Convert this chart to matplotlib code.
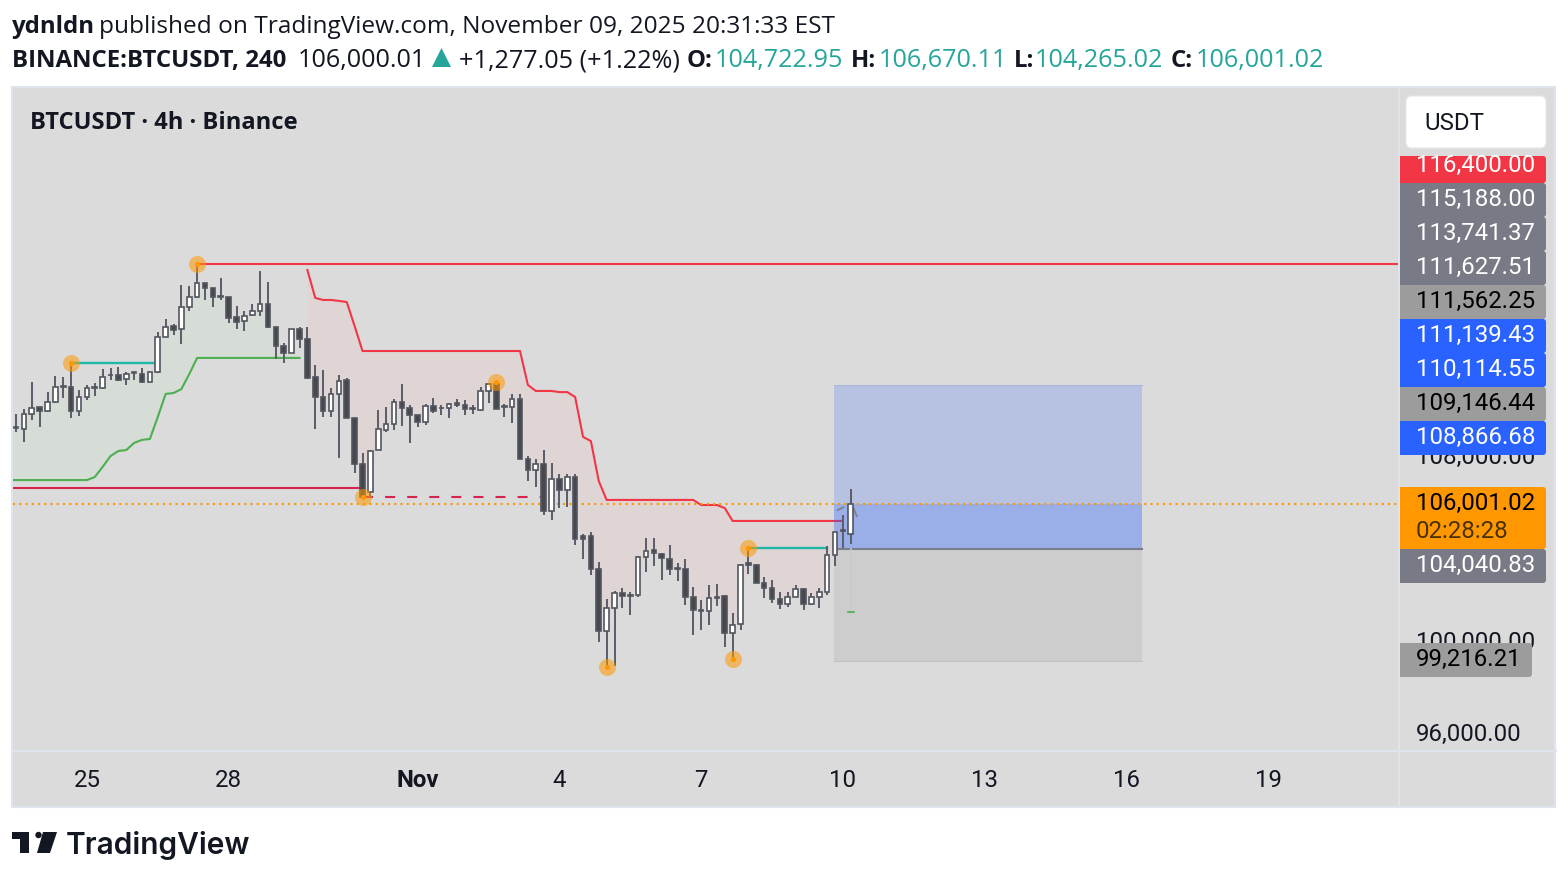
import matplotlib
matplotlib.use("Agg")
import matplotlib.pyplot as plt
import numpy as np
from matplotlib.patches import FancyBboxPatch, Polygon, Rectangle, Circle
from matplotlib.transforms import ScaledTranslation

# 4h candles, oldest first
opens = [
    109320, 109250, 109900, 110200, 110030, 110420, 111090, 111070, 110030, 110640,
    111070, 111030, 111590, 111590, 111420, 111700, 111630, 111290, 111720, 113240,
    113710, 113580, 114540, 114970, 115580, 115360, 115010, 114970, 114100, 113930,
    114190, 114360, 114670, 113670, 112840, 112540, 113580, 113150, 111500, 110640,
    110030, 110770, 111380, 109730, 107740, 106520, 108340, 109210, 109470, 110420,
    110160, 109860, 109560, 110250, 110180, 110160, 110360, 110290, 110140, 110080,
    110900, 111200, 110250, 110200, 110550, 107950, 107480, 107740, 105700, 107090,
    106610, 107170, 104620, 104620, 103190, 100500, 101500, 102150, 102080, 102060,
    103710, 104010, 103860, 103620, 103250, 103190, 101970, 101430, 101370, 101970,
    102020, 100420, 100800, 103430, 103360, 102580, 102370, 101890, 101670, 101970,
    102320, 101670, 101970, 102190, 103800, 104880, 104722.95,
]
highs = [
    109900, 110120, 111290, 110200, 110850, 111550, 111500, 112110, 110940, 111160,
    111240, 111850, 111900, 111940, 111720, 111700, 111900, 111720, 113450, 114020,
    113800, 115490, 115450, 116400, 115580, 115360, 115790, 114970, 114580, 114360,
    114670, 116100, 115620, 113670, 112970, 113580, 113670, 113670, 112020, 111810,
    111030, 111590, 111460, 109730, 108210, 108340, 110080, 110200, 110550, 111200,
    110290, 109860, 110340, 110600, 110290, 110380, 110550, 110510, 110290, 111070,
    111240, 111240, 110340, 110770, 110770, 108080, 107950, 108340, 107780, 107300,
    107300, 107300, 104700, 104790, 103490, 101890, 102240, 102370, 102190, 103750,
    104530, 104530, 103880, 104230, 103450, 103620, 102410, 101850, 102500, 102540,
    102060, 101280, 103400, 104100, 103400, 102840, 102710, 102190, 102190, 102500,
    102370, 102150, 102370, 104180, 104790, 105530, 106670.11,
]
lows = [
    109120, 108690, 109640, 109340, 109990, 110380, 110590, 109730, 109810, 110510,
    110680, 110980, 111380, 111330, 111160, 111380, 111240, 111290, 111680, 113240,
    113320, 112930, 114360, 114930, 114840, 114540, 114840, 113840, 113580, 113500,
    114150, 114150, 113620, 112280, 112110, 112540, 112760, 111420, 109250, 109770,
    109770, 108000, 109730, 107350, 106260, 106310, 108340, 109120, 109210, 109380,
    108650, 109340, 109430, 109950, 109860, 109730, 110200, 109860, 109900, 110030,
    110380, 110120, 109770, 109510, 107950, 107000, 106740, 105530, 105310, 105830,
    105870, 104230, 103620, 102930, 100030, 98940, 98990, 101500, 101200, 101970,
    103060, 103320, 102710, 102930, 102670, 101630, 100330, 100550, 100760, 101590,
    99810, 99290, 100550, 102970, 102580, 101930, 101720, 101460, 101540, 101970,
    101410, 101630, 101500, 102060, 103320, 104100, 104265.02,
]
closes = [
    109280, 109900, 110160, 110030, 110420, 111070, 111070, 110030, 110640, 111030,
    111040, 111500, 111570, 111380, 111630, 111660, 111290, 111720, 113240, 113670,
    113540, 114540, 114970, 115580, 115360, 114970, 114970, 114060, 113890, 114150,
    114360, 114670, 113670, 112840, 112540, 113580, 113150, 111460, 110640, 110030,
    110770, 111330, 109730, 107740, 106310, 108300, 109250, 109470, 110420, 110160,
    109860, 109560, 110250, 110030, 110140, 110340, 110310, 110120, 110100, 110900,
    111200, 110120, 110200, 110550, 107950, 107480, 107740, 105700, 107090, 106610,
    107170, 104490, 104490, 103190, 100500, 101500, 102150, 102020, 102040, 103710,
    103970, 103880, 103660, 103190, 103210, 101970, 101410, 101390, 101930, 101930,
    100420, 100760, 103360, 103380, 102580, 102370, 101890, 101670, 101970, 102320,
    101670, 101970, 102190, 103800, 104790, 104820, 106001.02,
]

# trailing stop, bars -1..36 going up then bars 37..105 going down
trail_up = [107040] * 11 + [
    107170, 107610, 108080, 108300, 108340, 108650, 108780, 108820, 109770, 110770,
    110810, 110980, 111630,
] + [112330] * 14
trail_down = [116140, 114930, 114840, 114840, 114800, 114750, 113710] + [112630] * 21 + [
    111160, 110900, 110900, 110900, 110850, 110850, 110640, 108910, 108730, 107000,
] + [106180] * 12 + [105960] * 3 + [105830] + [105270] * 15

# swing points (bar, price)
swing_bars = [7, 23, 44, 61, 75, 91, 93]
swing_prices = [112110, 116400, 106320, 111290, 98944, 99290, 104100]

top_line = 116400
last_price = 106001.02
entry = 104040.83
target = 111139.43
stop = 99216.21

xtick_bars = [9, 27, 51, 69, 87, 105, 123, 141, 159]
xtick_labels = ["25", "28", "Nov", "4", "7", "10", "13", "16", "19"]
ytick_values = [96000, 100000, 108000]
ytick_labels = ["96,000.00", "100,000.00", "108,000.00"]

bg = "#dbdbdb"
text_dark = "#131722"
teal = "#26a69a"
W, H = 1568, 880

fig = plt.figure(figsize=(W / 100, H / 100), dpi=100, facecolor="white")

# page furniture in pixel coordinates
back = fig.add_axes([0, 0, 1, 1], zorder=0)
back.set_xlim(0, W)
back.set_ylim(H, 0)
back.axis("off")
back.add_patch(Rectangle((12.5, 87), 1543, 720, fc=bg, ec="#dfe3ec", lw=1.5))
back.plot([1399, 1399], [87, 807], color="#dfe3ec", lw=1.5)
back.plot([12, 1556], [751, 751], color="#dfe3ec", lw=1.5)


def px(size):
    return size * 0.72


def head(x, y, s, bold=False, color=text_dark, size=25.2):
    back.text(x, y, s, family="Open Sans", fontsize=px(size), color=color,
              fontweight="bold" if bold else "normal", va="center", ha="left")


head(12, 27, "ydnldn", bold=True, size=24)
head(99, 27, "published on TradingView.com, November 09, 2025 20:31:33 EST", size=24.4)
head(12, 61, "BINANCE:BTCUSDT, 240", bold=True, size=24)
head(298, 61, "106,000.01")
back.add_patch(Polygon([[432, 67], [451, 67], [441.5, 48]], fc=teal, ec="none"))
head(459, 61, "+1,277.05 (+1.22%)")
head(687, 61, "O:", bold=True, size=24)
head(715, 61, "104,722.95", color=teal)
head(851, 61, "H:", bold=True, size=24)
head(879, 61, "106,670.11", color=teal)
head(1014, 61, "L:", bold=True, size=24)
head(1035, 61, "104,265.02", color=teal)
head(1171, 61, "C:", bold=True, size=24)
head(1196, 61, "106,001.02", color=teal)
head(30, 123, "BTCUSDT · 4h · Binance", bold=True, size=23.8)

# logo
logo = "#131722"
back.add_patch(Polygon([[12, 832], [29, 832], [29, 853], [20, 853], [20, 839], [12, 839]], fc=logo, ec="none"))
back.add_patch(Circle((38.5, 835), 3.2, fc=logo, ec="none"))
back.add_patch(Polygon([[43, 832], [57, 832], [50, 853], [37, 853]], fc=logo, ec="none"))
back.text(66, 845, "TradingView", family="Inter", fontsize=px(29.9), fontweight="semibold",
          color=logo, va="center", ha="left")

# chart area
ax = fig.add_axes([13 / W, 1 - 750 / H, (1398 - 13) / W, (750 - 88) / H], zorder=1)
ax.patch.set_alpha(0)
for s in ax.spines.values():
    s.set_visible(False)
ax.set_xlim(-0.381, 175.49)
ax.set_ylim(95350, 124020)

opens_a, highs_a, lows_a, closes_a = map(np.array, (opens, highs, lows, closes))
bars = np.arange(len(opens))
mids = (opens_a + closes_a) / 2

# trailing stop and its shading
up_x = np.arange(-1, 37)
ax.fill_between(up_x, trail_up, np.r_[mids[0], mids[:37]], color="#d6dcd6", lw=0, zorder=1)
ax.plot(up_x, trail_up, color="#4caf50", lw=1.5, zorder=1.4)
down_x = np.arange(37, 106)
ax.fill_between(down_x, trail_down, mids[37:106], color="#e0d5d5", lw=0, zorder=1)
ax.plot(down_x, trail_down, color="#f23645", lw=1.5, zorder=1.4)

# long position box
box_left, box_right = 103.87, 142.98
ax.fill_between([box_left, box_right], entry, target, color="#2962ff", alpha=0.2, lw=0, zorder=1.5)
ax.fill_between([box_left, box_right], entry, last_price, color="#2962ff", alpha=0.2, lw=0, zorder=1.6)
ax.fill_between([box_left, box_right], stop, entry, color="#cdcdcd", lw=0, zorder=1.5)
ax.plot([box_left, box_right], [entry, entry], color="#7b7e8a", lw=1.5, zorder=1.7)
ax.plot([box_left, box_right], [target, target], color="#a9b7d8", lw=0.8, zorder=1.7)
ax.plot([box_left, box_right], [stop, stop], color="#c2c2c2", lw=0.8, zorder=1.7)
ax.plot([106, 106], [101330, entry], color="#c3cfc5", lw=1.2, zorder=1.8)
ax.plot([105.65, 106.35], [101330, 101330], color="#4caf50", lw=1.2, zorder=1.8)

# arrow tip of the drawn path on the last bars
ax.plot([104.34, 105.05], [105744, 105860], color="#80838e", lw=1.4, zorder=2.2)
ax.plot([106.32, 106.75], [105840, 105480], color="#80838e", lw=1.4, zorder=2.2)

# levels
ax.plot([23, 175.49], [top_line, top_line], color="#f23645", lw=1.5, zorder=2)
ax.plot([7, 18], [112110, 112110], color="#1fb8a6", lw=1.7, zorder=2)
ax.plot([93, 103], [104100, 104100], color="#1fb8a6", lw=1.7, zorder=2)
ax.plot([-0.381, 44], [106710, 106710], color="#d6234f", lw=1.5, zorder=2)
ax.plot([44, 67], [106320, 106320], color="#d6234f", lw=1.5, ls=(0, (4.8, 5.8)), zorder=2)
ax.plot([-0.381, 175.49], [last_price, last_price], color="#ff9800", lw=1.5, ls=(0, (1, 2)), zorder=2.5)

# candles
ax.vlines(bars, lows_a, highs_a, color="#5d606b", lw=1.45, zorder=3)
is_up = closes_a >= opens_a
faces = np.where(is_up, "#ffffff", "#47484d")
ax.bar(bars, np.maximum(np.abs(closes_a - opens_a), 30), bottom=np.minimum(opens_a, closes_a),
       width=0.58, color=faces, edgecolor="#53565f", linewidth=1.2, zorder=4)

# swing markers
ax.scatter(swing_bars, swing_prices, s=150, color="#ff9800", alpha=0.55, lw=0, zorder=5)
ax.scatter(swing_bars, swing_prices, s=14, color="#ff9800", lw=0, zorder=5.1)

ax.set_xticks(xtick_bars)
ax.set_xticklabels(xtick_labels, family="Roboto", fontsize=px(24), color=text_dark)
ax.get_xticklabels()[2].set_fontweight("bold")
ax.yaxis.tick_right()
ax.set_yticks(ytick_values)
ax.set_yticklabels(ytick_labels, family="Roboto", fontsize=px(24), color=text_dark, ha="left")
ax.tick_params(axis="x", length=0, pad=13.5)
ax.tick_params(axis="y", length=0, pad=13)
# scale text sits a little above its true level on the original
for lab in ax.get_yticklabels():
    lab.set_transform(lab.get_transform() + ScaledTranslation(0, 3 / 100, fig.dpi_scale_trans))

# price labels on top of the scale
over = fig.add_axes([0, 0, 1, 1], zorder=2)
over.set_xlim(0, W)
over.set_ylim(H, 0)
over.axis("off")
over.patch.set_alpha(0)

label_texts = ["116,400.00", "115,188.00", "113,741.37", "111,627.51", "111,562.25",
               "111,139.43", "110,114.55", "109,146.44", "108,866.68", "104,040.83",
               "99,216.21"]
label_tops = [156, 183, 217, 251, 285, 319, 353, 387, 421, 549, 643]
label_bottoms = [183, 217, 251, 285, 319, 353, 387, 421, 455, 583, 677]
label_faces = ["#f23645", "#787b86", "#787b86", "#787b86", "#9c9c9c", "#2962ff", "#2962ff",
               "#9c9c9c", "#2962ff", "#787b86", "#9c9c9c"]
label_colors = ["white", "white", "white", "white", "black", "white", "white",
                "black", "white", "white", "black"]


def price_tag(top, bottom, face, right=1546):
    clip = Rectangle((1400, top), right - 1400, bottom - top, transform=over.transData)
    box = FancyBboxPatch((1390, top), right - 1390, bottom - top, boxstyle="round,pad=0,rounding_size=3",
                         fc=face, ec="none")
    over.add_patch(box)
    box.set_clip_path(clip)
    return clip


for t, top, bottom, face, col in zip(label_texts, label_tops, label_bottoms, label_faces, label_colors):
    right = 1532 if t.startswith("99") else 1546
    clip = price_tag(top, bottom, face, right)
    mid_y = 165 if top == 156 else (top + bottom) / 2 - 1
    txt = over.text(1416, mid_y, t, family="Roboto", fontsize=px(24), color=col, va="center", ha="left")
    txt.set_clip_path(clip)

price_tag(487, 549, "#ff9800")
over.text(1416, 503.5, "106,001.02", family="Roboto", fontsize=px(24), color="black", va="center", ha="left")
over.text(1416, 531.5, "02:28:28", family="Roboto", fontsize=px(24), color="#4a3000", va="center", ha="left")

over.add_patch(FancyBboxPatch((1406, 96), 140, 52, boxstyle="round,pad=0,rounding_size=6", fc="white", ec="#e8e8e8", lw=0.8))
over.text(1424, 124, "USDT", family="Roboto", fontsize=px(24), color=text_dark, va="center", ha="left")

fig.savefig("out.png", dpi=100)
